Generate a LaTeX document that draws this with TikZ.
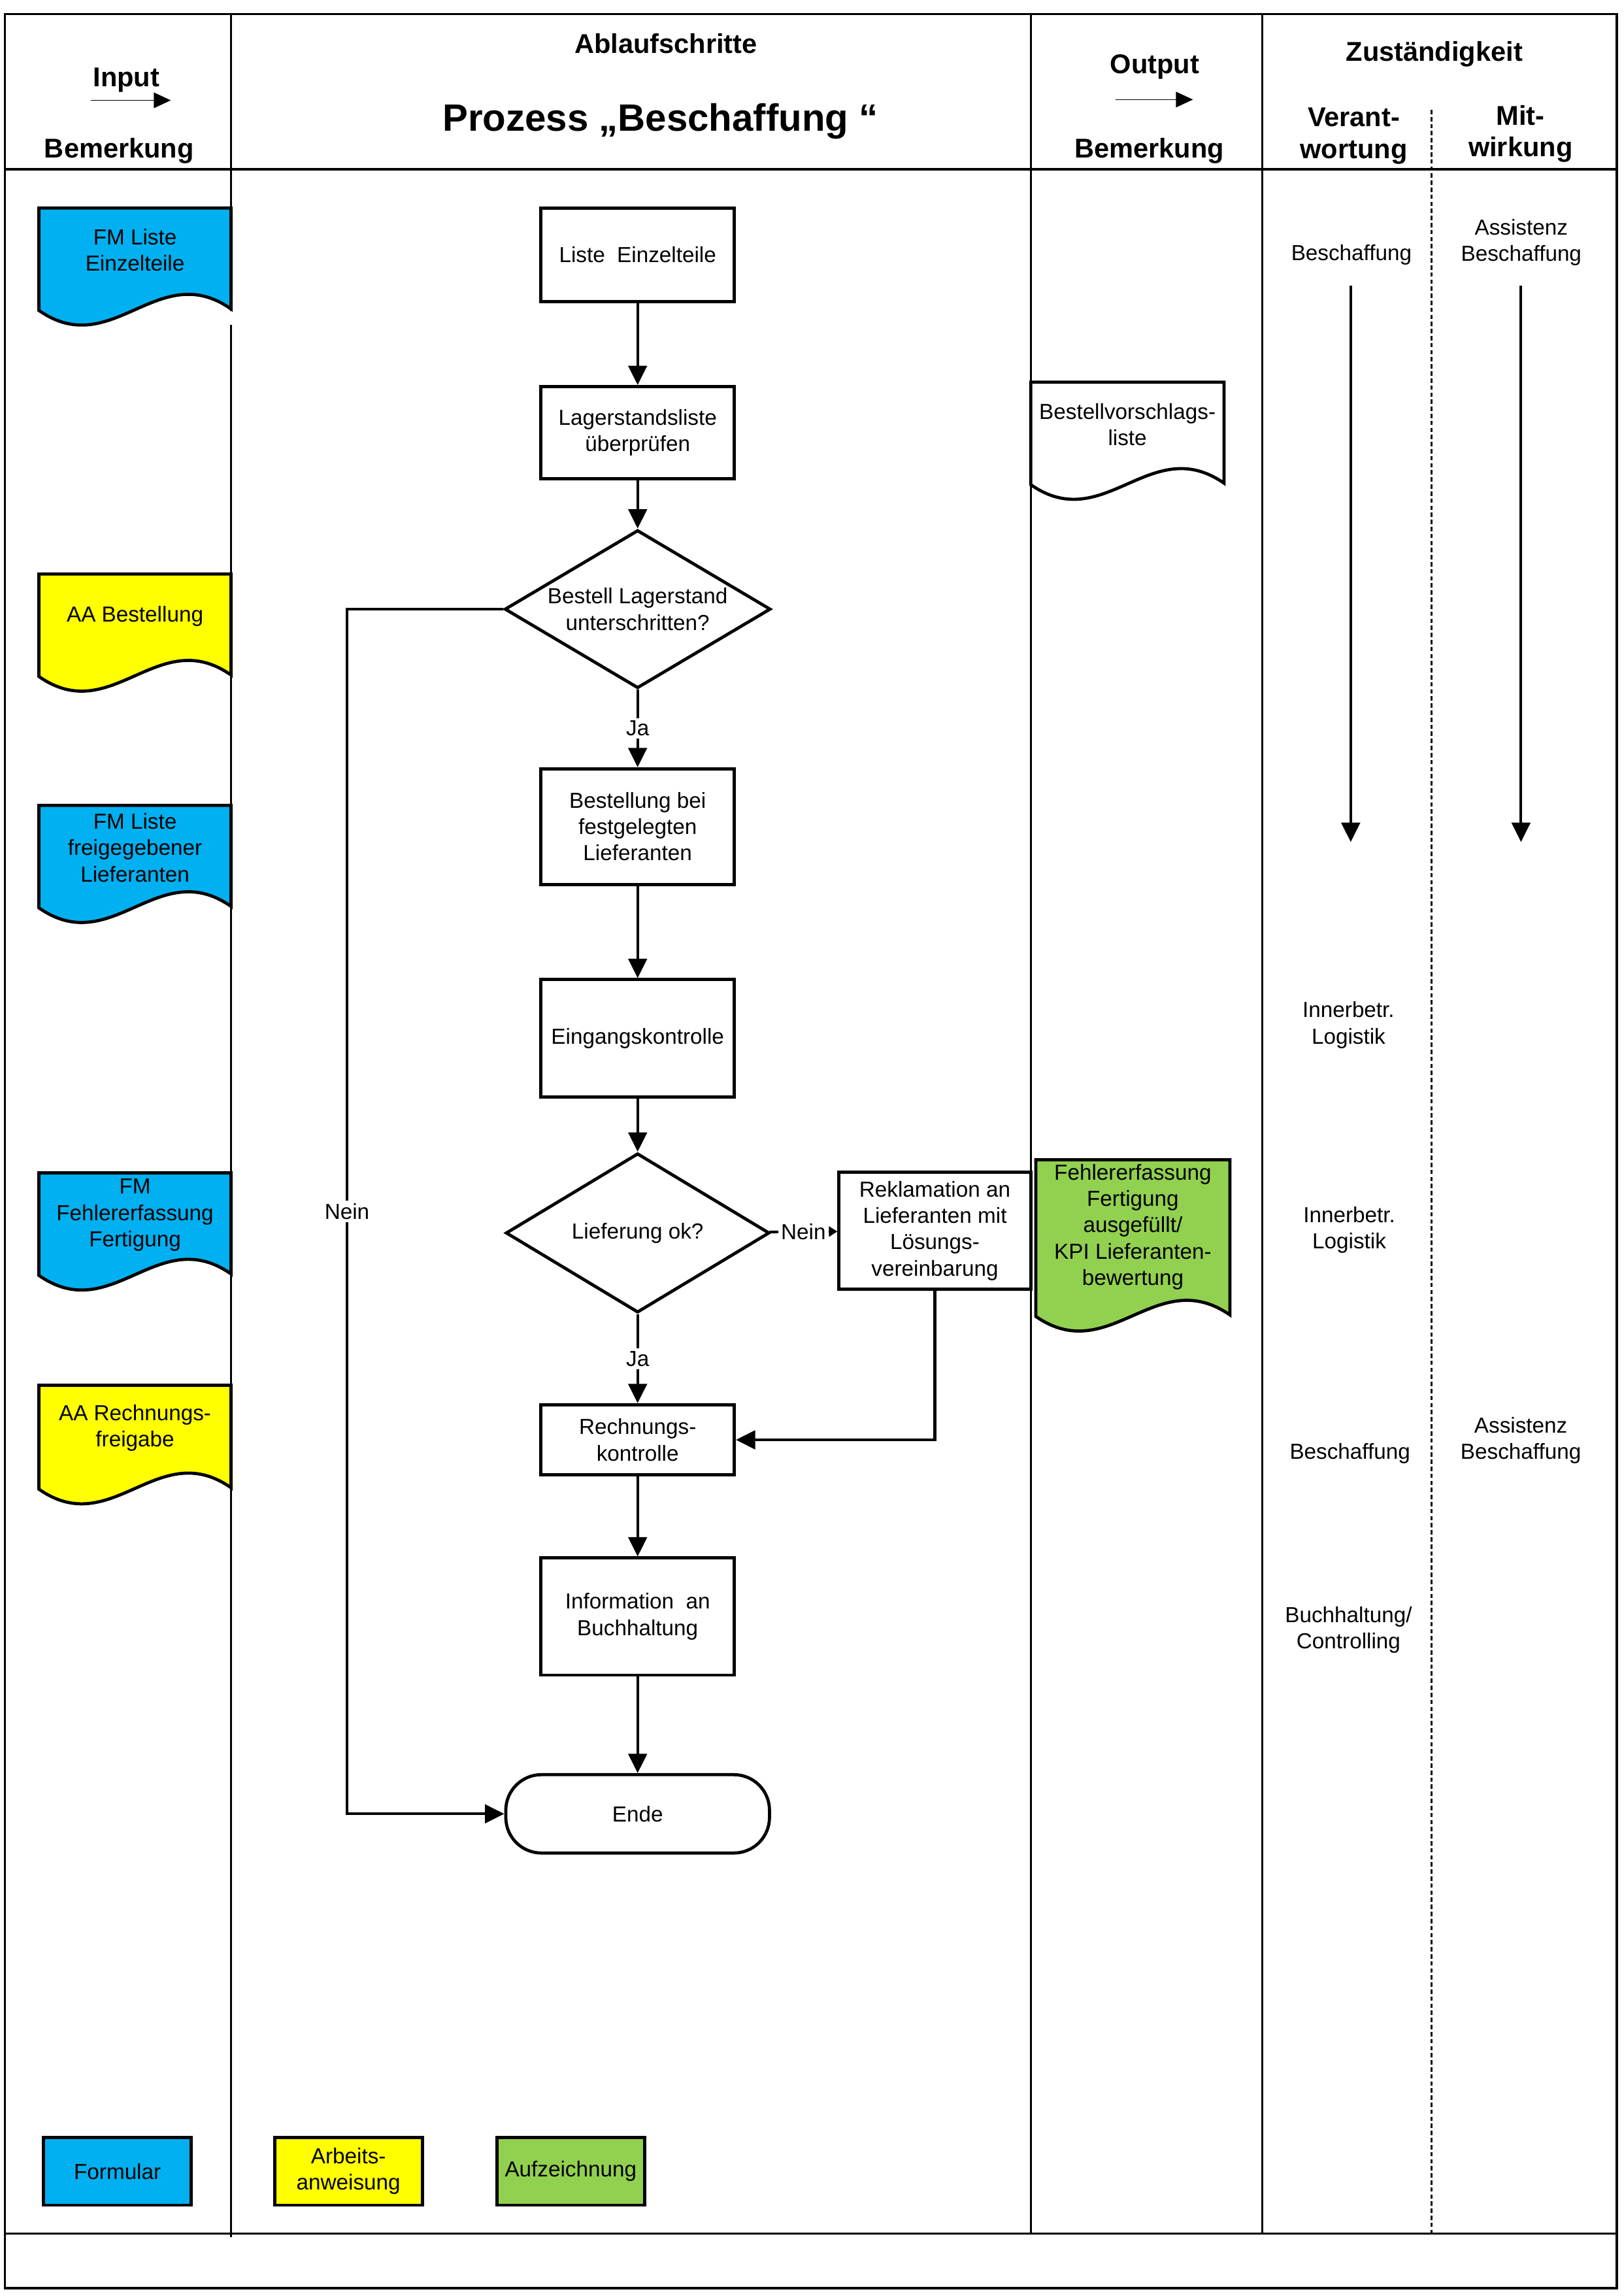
\documentclass[tikz,border=0pt]{standalone}
\usepackage{fontspec}
\setmainfont{Liberation Sans}
\usepackage{tikz}
\usetikzlibrary{arrows.meta,shapes.geometric,calc}
\definecolor{fmBlue}{HTML}{00B0F0}
\definecolor{aaYellow}{HTML}{FFFF00}
\definecolor{azGreen}{HTML}{92D050}
\newcommand{\diagfont}{\fontsize{8}{9.7}\selectfont}
\newcommand{\hdrfont}{\fontsize{10}{11.7}\selectfont\bfseries}
\tikzset{
  every picture/.append style={font=\diagfont},
  frameline/.style = {line width=0.8pt},
  colline/.style   = {line width=0.8pt},
  dashline/.style  = {line width=0.7pt, dash pattern=on 1.6pt off 1pt},
  prozbox/.style   = {rectangle, draw, line width=1.15pt, fill=white,
                      minimum width=2.5cm, align=center, inner sep=1pt},
  entsch/.style    = {diamond, draw, line width=1.15pt, fill=white,
                      aspect=1.7, inner sep=0pt, align=center},
  term/.style      = {rectangle, rounded corners=0.46cm, draw, line width=1.15pt,
                      minimum width=3.41cm, minimum height=1.013cm},
  docline/.style   = {draw, line width=1.15pt},
  doctxt/.style    = {align=center, inner sep=1pt},
  legbox/.style    = {rectangle, draw, line width=1.15pt, minimum width=1.91cm,
                      minimum height=0.877cm, align=center, inner sep=1pt},
  txt/.style       = {align=center, inner sep=1pt},
  hdr/.style       = {align=center, inner sep=1pt, font=\hdrfont},
  lbl/.style       = {fill=white, inner sep=1pt},
  arr/.style       = {-{Triangle[length=2.5mm, width=2.4mm]}, line width=1pt},
  arrsm/.style     = {-{Triangle[length=1.1mm, width=1.3mm]}, line width=1pt},
  harr/.style      = {-{Triangle[length=2.2mm, width=2mm]}, line width=0.4pt},
}
% document symbol: name, x, y (top left), width, height, fill, text
\newcommand{\docnode}[7]{%
  \draw[docline, fill=#6] (#2,#3) -- ({#2+#4},#3) -- ({#2+#4},{#3+#5-11})
    .. controls ({#2+0.62*#4},{#3+#5-46}) and ({#2+0.38*#4},{#3+#5+25})
    .. (#2,{#3+#5-10}) -- cycle;
  \node[doctxt] (#1) at ({#2+#4/2},{#3+0.46*#5-8}) {#7};}

\begin{document}
\begin{tikzpicture}[x=0.018936cm, y=-0.018941cm]
  \useasboundingbox (0,0) rectangle (1109,1568);
  % frame and columns
  \draw[frameline] (3.2,9.7) rectangle (1104.3,1562.6);
  \draw[frameline] (3.2,115.6) -- (1104.3,115.6);
  \draw[frameline] (3.2,1525.4) -- (1104.3,1525.4);
  \draw[colline] (157.8,9.7) -- (157.8,212.5) (157.8,222) -- (157.8,1528);
  \foreach \x in {704,862}
    \draw[colline] (\x,9.7) -- (\x,1525.4);
  \draw[dashline] (977.8,75) -- (977.8,1525.4);

  % header
  \node[hdr] (inp) at (86.3,54.5) {Input};
  \coordinate (inpA) at (62,68.5);
  \coordinate (inpB) at (116.7,68.5);
  \draw[harr] (inpA) -- (inpB);
  \node[hdr] (bemL) at (81.4,103) {Bemerkung};
  \node[hdr] (ablauf) at (454.8,29.8) {Ablaufschritte};
  \node[hdr, font=\fontsize{14}{16}\selectfont\bfseries] (titel) at (451,83)
    {Prozess „Beschaffung “};
  \node[hdr] (outp) at (788.7,45.8) {Output};
  \coordinate (outA) at (761.8,68);
  \coordinate (outB) at (814.8,68);
  \draw[harr] (outA) -- (outB);
  \node[hdr] (bemR) at (785,103) {Bemerkung};
  \node[hdr] (zust) at (979.6,36.8) {Zuständigkeit};
  \node[hdr] (verant) at (924.6,93) {Verant-\\wortung};
  \node[hdr] (mitw) at (1038.5,91.5) {Mit-\\wirkung};

  % input documents
  \docnode{fmListe}{26.6}{142}{131.2}{80}{fmBlue}{FM Liste\\Einzelteile}
  \docnode{aaBest}{26.6}{392}{131.2}{80}{aaYellow}{AA Bestellung}
  \docnode{fmLief}{26.6}{550}{131.2}{80}{fmBlue}{FM Liste\\freigegebener\\Lieferanten}
  \docnode{fmFehler}{26.6}{801}{131.2}{80}{fmBlue}{FM\\Fehlererfassung\\Fertigung}
  \docnode{aaRechn}{26.6}{946}{131.2}{81}{aaYellow}{AA Rechnungs-\\freigabe}

  % process steps
  \node[prozbox, minimum height=1.212cm] (liste) at (435.5,174) {Liste\ \ Einzelteile};
  \node[prozbox, minimum height=1.193cm] (lager) at (435.5,295.5) {Lagerstandsliste\\überprüfen};
  \node[entsch, minimum width=3.44cm, minimum height=2.045cm] (bestand) at (435.5,416)
    {Bestell Lagerstand\\unterschritten?};
  \node[prozbox, minimum height=1.496cm] (bestell) at (435.5,564.5)
    {Bestellung bei\\festgelegten\\Lieferanten};
  \node[prozbox, minimum height=1.515cm] (eingang) at (435.5,709) {Eingangskontrolle};
  \node[entsch, minimum width=3.41cm, minimum height=2.06cm] (liefok) at (435.5,842)
    {Lieferung ok?};
  \node[prozbox, minimum width=2.48cm, minimum height=1.515cm] (reklam) at (638.5,840.5)
    {Reklamation an\\Lieferanten mit\\Lösungs-\\vereinbarung};
  \node[prozbox, minimum height=0.909cm] (rechn) at (435.5,983.3) {Rechnungs-\\kontrolle};
  \node[prozbox, minimum height=1.515cm] (info) at (435.5,1104) {Information\ \ an\\Buchhaltung};
  \node[term] (ende) at (435.5,1238.7) {Ende};

  \draw[arr] (liste) -- (lager);
  \draw[arr] (lager) -- (bestand);
  \draw[arr] (bestand) -- node[lbl] {Ja} (bestell);
  \draw[arr] (bestell) -- (eingang);
  \draw[arr] (eingang) -- (liefok);
  \draw[arr] (liefok) -- node[lbl] {Ja} (rechn);
  \draw[arrsm] (liefok) -- node[lbl] {Nein} (reklam);
  \draw[arr] (reklam.south) |- (rechn.east);
  \draw[arr] (rechn) -- (info);
  \draw[arr] (info) -- (ende);
  \coordinate (neinK) at (237,416);
  \draw[arr] (bestand.west) -- (neinK) |- node[lbl, pos=0.25] {Nein} (ende.west);

  % output documents
  \docnode{vorschlag}{704}{261}{132}{80}{white}{Bestellvorschlags-\\liste}
  \docnode{fehlerAusg}{707.4}{792}{132.6}{117}{azGreen}
    {Fehlererfassung\\Fertigung\\ausgefüllt/\\KPI Lieferanten-\\bewertung}

  % responsibilities
  \node[txt] (vBesch) at (923,174) {Beschaffung};
  \node[txt] (mBesch) at (1039,165.5) {Assistenz\\Beschaffung};
  \foreach \x/\n in {922.5/v, 1038.8/m}{%
    \coordinate (\n A) at (\x,195);
    \coordinate (\n B) at (\x,575);
    \draw[arr] (\n A) -- (\n B);}
  \node[txt] (inLog1) at (921,700) {Innerbetr.\\Logistik};
  \node[txt] (inLog2) at (921.5,840) {Innerbetr.\\Logistik};
  \node[txt] (vBesch2) at (922,992.7) {Beschaffung};
  \node[txt] (mBesch2) at (1038.7,983.6) {Assistenz\\Beschaffung};
  \node[txt] (buchh) at (921,1113) {Buchhaltung/\\Controlling};

  % legend
  \node[legbox, fill=fmBlue] (legF) at (80.2,1482.8) {Formular};
  \node[legbox, fill=aaYellow] (legA) at (238,1482.8) {Arbeits-\\anweisung};
  \node[legbox, fill=azGreen] (legZ) at (389.8,1482.8) {Aufzeichnung};
\end{tikzpicture}
\end{document}
